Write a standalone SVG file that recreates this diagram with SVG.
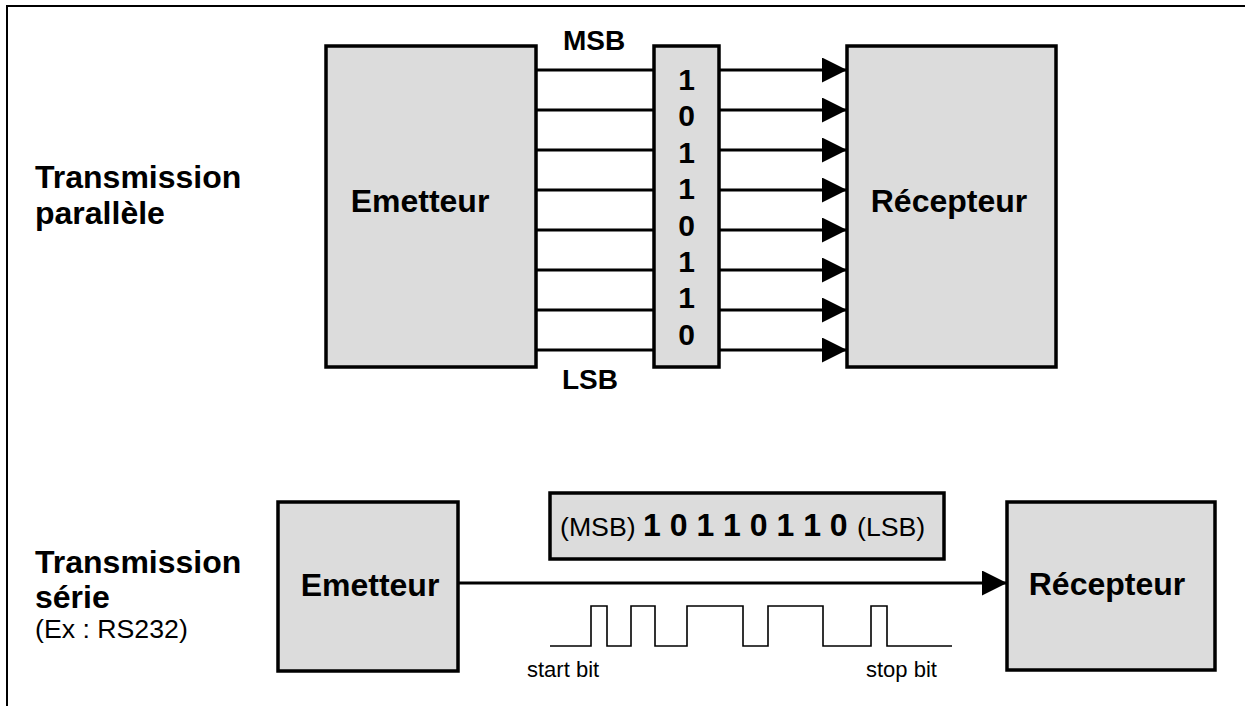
<svg xmlns="http://www.w3.org/2000/svg" width="1245" height="706" viewBox="0 0 1245 706">
<style>
.box{fill:#dcdcdc;stroke:#000;stroke-width:3.5}
.wire{stroke:#000;stroke-width:3;fill:none}
.wave{stroke:#000;stroke-width:1.6;fill:none}
.b{font-family:"Liberation Sans",Arial,sans-serif;font-weight:bold;fill:#000}
.r{font-family:"Liberation Sans",Arial,sans-serif;fill:#000}
</style>
<defs>
<marker id="ah" markerUnits="userSpaceOnUse" markerWidth="26" markerHeight="26" refX="25" refY="12.5" orient="auto">
<path d="M0,0 L25,12.5 L0,25 Z" fill="#000"/>
</marker>
</defs>
<rect width="1245" height="706" fill="#fff"/>
<path d="M7,706 V6 H1245" fill="none" stroke="#000" stroke-width="2"/>

<g id="labels">
<text class="b" x="35" y="188" font-size="32">Transmission</text>
<text class="b" x="35" y="224" font-size="32">parallèle</text>
<text class="b" x="35" y="573" font-size="32">Transmission</text>
<text class="b" x="35" y="608" font-size="32">série</text>
<text class="r" x="35" y="638" font-size="26.7">(Ex : RS232)</text>
</g>

<g id="connectors">
<path class="wire" d="M536,70H654M536,110H654M536,150H654M536,190H654M536,230H654M536,270H654M536,310H654M536,350H654"/>
<line class="wire" x1="719" y1="70" x2="847" y2="70" marker-end="url(#ah)"/>
<line class="wire" x1="719" y1="110" x2="847" y2="110" marker-end="url(#ah)"/>
<line class="wire" x1="719" y1="150" x2="847" y2="150" marker-end="url(#ah)"/>
<line class="wire" x1="719" y1="190" x2="847" y2="190" marker-end="url(#ah)"/>
<line class="wire" x1="719" y1="230" x2="847" y2="230" marker-end="url(#ah)"/>
<line class="wire" x1="719" y1="270" x2="847" y2="270" marker-end="url(#ah)"/>
<line class="wire" x1="719" y1="310" x2="847" y2="310" marker-end="url(#ah)"/>
<line class="wire" x1="719" y1="350" x2="847" y2="350" marker-end="url(#ah)"/>
<line class="wire" x1="458" y1="583" x2="1007" y2="583" marker-end="url(#ah)"/>
</g>

<g id="par-emetteur">
<rect class="box" x="326" y="46" width="210" height="321"/>
<text class="b" x="420" y="212" font-size="32" text-anchor="middle">Emetteur</text>
</g>

<g id="par-bits">
<rect class="box" x="654" y="46" width="65" height="321"/>
<g class="b" font-size="30" text-anchor="middle">
<text x="686.5" y="90">1</text>
<text x="686.5" y="126.4">0</text>
<text x="686.5" y="162.8">1</text>
<text x="686.5" y="199.2">1</text>
<text x="686.5" y="235.6">0</text>
<text x="686.5" y="272">1</text>
<text x="686.5" y="308.4">1</text>
<text x="686.5" y="344.8">0</text>
</g>
</g>

<g id="msb-lsb">
<text class="b" x="563" y="50" font-size="28">MSB</text>
<text class="b" x="562" y="389" font-size="28">LSB</text>
</g>

<g id="par-recepteur">
<rect class="box" x="847" y="46" width="209" height="321"/>
<text class="b" x="949" y="212" font-size="32" text-anchor="middle">Récepteur</text>
</g>

<g id="ser-emetteur">
<rect class="box" x="278" y="502" width="180" height="169"/>
<text class="b" x="370" y="596" font-size="32" text-anchor="middle">Emetteur</text>
</g>

<g id="ser-word">
<rect class="box" x="550" y="493" width="394" height="66"/>
<text y="536"><tspan class="r" x="560" font-size="26.7">(MSB)</tspan><tspan class="b" x="643" font-size="32">1 0 1 1 0 1 1 0</tspan><tspan class="r" x="857" font-size="26.7">(LSB)</tspan></text>
</g>

<g id="ser-recepteur">
<rect class="box" x="1007" y="502" width="208" height="168"/>
<text class="b" x="1107" y="595" font-size="32" text-anchor="middle">Récepteur</text>
</g>

<g id="waveform">
<path class="wave" d="M550,646H591V606H607V646H631V606H655V646H687V606H743V646H768V606H823V646H871V606H887V646H952"/>
<text class="r" x="527" y="677" font-size="22">start bit</text>
<text class="r" x="866" y="677" font-size="22">stop bit</text>
</g>
</svg>
